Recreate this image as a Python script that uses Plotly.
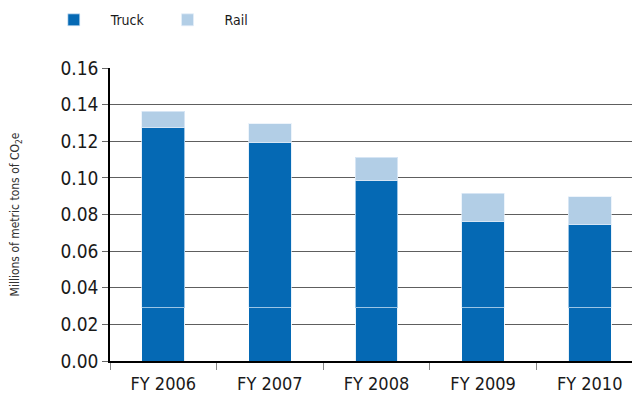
import plotly.graph_objects as go

categories = ["FY 2006", "FY 2007", "FY 2008", "FY 2009", "FY 2010"]
truck = [0.1273, 0.1192, 0.0983, 0.0761, 0.0744]
rail = [0.0092, 0.0104, 0.0131, 0.0155, 0.0153]
truck_split = [0.029, 0.029, 0.029, 0.029, 0.029]

truck_upper = [t - s for t, s in zip(truck, truck_split)]

TRUCK_COLOR = "#0569b4"
RAIL_COLOR = "#b2cee6"
FONT = "Liberation Sans Narrow, DejaVu Sans Condensed, Arial Narrow, sans-serif"

fig = go.Figure()
fig.add_bar(x=categories, y=truck_split, marker=dict(color=TRUCK_COLOR, line=dict(color="rgba(255,255,255,0.9)", width=1)),
            name="Truck", showlegend=False, legendgroup="truck")
fig.add_bar(x=categories, y=truck_upper, marker=dict(color=TRUCK_COLOR, line=dict(color="rgba(220,235,250,0.7)", width=1)),
            name="Truck", legendgroup="truck")
fig.add_bar(x=categories, y=rail, marker=dict(color=RAIL_COLOR, line=dict(color="rgba(230,240,250,0.7)", width=1)),
            name="Rail")

fig.update_layout(
    width=640, height=408,
    barmode="stack", bargap=0.6,
    plot_bgcolor="white", paper_bgcolor="white",
    margin=dict(l=102, r=5, t=60, b=55, autoexpand=False),
    font=dict(family=FONT, color="#1a1a1a"),
    legend=dict(orientation="h", xref="container", yref="container", x=0.045, y=0.97,
                xanchor="left", yanchor="middle",
                font=dict(size=14, color="#1a1a1a"), itemwidth=64, traceorder="normal"),
    xaxis=dict(showline=True, linecolor="black", linewidth=1.5, ticks="outside", tickson="boundaries",
               ticklen=7, tickcolor="#888", tickfont=dict(size=18, color="#1a1a1a"), automargin=False,
               ticklabelstandoff=6),
    yaxis=dict(range=[0, 0.16], dtick=0.02, tickformat=".2f", showline=True, linecolor="black", linewidth=1.5,
               ticks="outside", ticklen=6, tickcolor="#666", showgrid=True, gridcolor="#5e5e5e", gridwidth=1,
               tickfont=dict(size=19, color="#1a1a1a"), automargin=False,
               title=dict(text="Millions of metric tons of CO<sub>2</sub>e", font=dict(size=12, color="#333"), standoff=46)),
)

fig.write_html("out.html")
